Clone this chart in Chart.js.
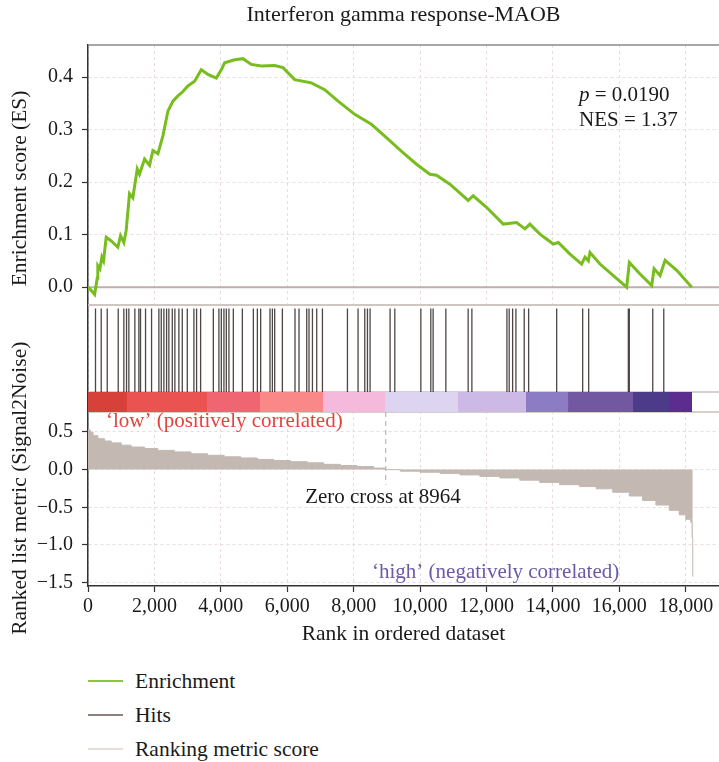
<!DOCTYPE html>
<html>
<head>
<meta charset="utf-8">
<script src="https://cdn.jsdelivr.net/npm/chart.js@4.4.0/dist/chart.umd.min.js"></script>
<style>
  body { margin: 0; background: #fff; font-family: 'Liberation Serif', 'DejaVu Serif', serif; }
  #wrap { position: relative; width: 719px; height: 762px; }
  #gsea { position: absolute; left: 0; top: 0; }
  .leg { position: absolute; left: 88px; width: 400px; height: 24px; color: #1a1a1a; font-size: 21.5px; }
  .leg .sw { position: absolute; left: 0; top: 11px; width: 35px; height: 2px; }
  .leg .tx { position: absolute; left: 47px; top: 0; line-height: 24px; white-space: nowrap; }
</style>
</head>
<body>
<div id="wrap">
  <canvas id="gsea" width="719" height="660"></canvas>
  <div class="leg" style="top:669px"><span class="sw" style="background:#8cc63f"></span><span class="tx">Enrichment</span></div>
  <div class="leg" style="top:703px"><span class="sw" style="background:#8c807c"></span><span class="tx">Hits</span></div>
  <div class="leg" style="top:737px"><span class="sw" style="background:#e6ded9"></span><span class="tx">Ranking metric score</span></div>
</div>
<script>
// running enrichment score
const esRank = [0, 120, 200, 277, 296, 360, 417, 467, 548, 700, 899, 980, 1080, 1150, 1250, 1350, 1483, 1550,
  1703, 1854, 1954, 2105, 2256, 2406, 2557, 2708, 2850, 3009, 3210, 3411, 3612, 3863, 4014, 4114, 4415, 4666,
  4917, 5218, 5620, 5871, 6223, 6725, 7127, 7529, 8031, 8534, 9036, 9450, 9892, 10293, 10494, 10896, 11448,
  11598, 12000, 12503, 12905, 13157, 13307, 13609, 14010, 14161, 14513, 14864, 14965, 15065, 15115, 15417,
  15818, 16220, 16300, 16622, 16974, 17044, 17225, 17376, 17728, 18180];
const esScore = [0.0, -0.008, -0.014, 0.017, 0.041, 0.035, 0.057, 0.05, 0.095, 0.088, 0.076, 0.098, 0.085, 0.108,
  0.178, 0.17, 0.225, 0.215, 0.244, 0.232, 0.26, 0.254, 0.288, 0.335, 0.354, 0.364, 0.372, 0.383, 0.392, 0.414,
  0.405, 0.398, 0.414, 0.427, 0.433, 0.435, 0.424, 0.421, 0.422, 0.418, 0.395, 0.389, 0.376, 0.354, 0.329, 0.31,
  0.282, 0.258, 0.234, 0.215, 0.213, 0.196, 0.165, 0.174, 0.152, 0.12, 0.123, 0.111, 0.12, 0.101, 0.082, 0.085,
  0.063, 0.044, 0.057, 0.05, 0.066, 0.044, 0.022, 0.0, 0.047, 0.025, 0.003, 0.035, 0.022, 0.051, 0.032, 0.0];

// positions of gene set members in the ranked list
const hitRank = [226, 398, 579, 910, 1079, 1160, 1230, 1411, 1531, 1582, 1733, 1914, 2134, 2206, 2285, 2366,
  2435, 2538, 2616, 2737, 2839, 2990, 3189, 3270, 3391, 3774, 3942, 4015, 4093, 4165, 4244, 4376, 4648, 4979,
  5100, 5199, 5480, 5552, 5621, 5853, 6233, 6354, 6586, 6655, 6758, 6887, 7059, 7812, 8132, 8334, 8415, 8494,
  9096, 9238, 10022, 10322, 10392, 10775, 11447, 11559, 12614, 12683, 12786, 12885, 13135, 13268, 14112, 14895,
  15076, 16270, 16300, 17005, 17337];

// ranked list metric (Signal2Noise)
const metricRank = [0, 60, 150, 300, 500, 700, 1000, 1300, 1700, 2100, 2600, 3100, 3600, 4100, 4600, 5100, 5600,
  6100, 6600, 7100, 7600, 8100, 8600, 8964, 9400, 10000, 10600, 11200, 11800, 12400, 13000, 13600, 14200, 14800,
  15300, 15800, 16300, 16700, 17100, 17500, 17800, 18000, 18150, 18190, 18210];
const metricValue = [0.53, 0.5, 0.45, 0.41, 0.38, 0.355, 0.325, 0.3, 0.28, 0.255, 0.235, 0.21, 0.19, 0.17, 0.155,
  0.135, 0.12, 0.105, 0.09, 0.07, 0.055, 0.04, 0.02, 0.0, -0.02, -0.035, -0.05, -0.07, -0.09, -0.11, -0.14, -0.17,
  -0.2, -0.225, -0.255, -0.3, -0.35, -0.41, -0.47, -0.54, -0.6, -0.66, -0.7, -0.9, -1.42];
const zeroCross = 8964;

// heat bar under the hits
const barStart = [0, 1174, 3583, 5179, 7076, 8943, 11141, 13189, 14454, 16411, 17495];
const barEnd = [1174, 3583, 5179, 7076, 8943, 11141, 13189, 14454, 16411, 17495, 18188];
const barColors = ['#d8403a', '#ea5352', '#ef6572', '#fb8888', '#f5b9dc', '#ddd4f2', '#cdb9e6', '#8b7cc3',
  '#7158a1', '#4b3b88', '#5c2c8e'];

const FONT = "'Liberation Serif', 'DejaVu Serif', serif";
Chart.defaults.font.family = FONT;
Chart.defaults.font.size = 20;
Chart.defaults.color = '#1a1a1a';

const minus = s => String(s).replace('-', '\u2212');
const keepMultiples = step => axis => {
  axis.ticks = axis.ticks.filter(t => Math.abs(t.value / step - Math.round(t.value / step)) < 1e-6);
};
const fixWidth = axis => { axis.width = 88; };
const GRID = '#eadcdc';
const TITLE_FONT = { size: 21.5 };

// text notes, in data coordinates
const notes = [
  { parts: [['italic ', 'p'], ['', ' = 0.0190']], x: 14785, y: 0.364, axis: 'yES', color: '#1a1a1a', align: 'left' },
  { parts: [['', 'NES = 1.37']], x: 14785, y: 0.318, axis: 'yES', color: '#1a1a1a', align: 'left' },
  { parts: [['', '\u2018low\u2019 (positively correlated)']], x: 540, y: 0.643, axis: 'yMetric', color: '#e0443e', align: 'left' },
  { parts: [['', 'Zero cross at 8964']], x: 8883, y: -0.365, axis: 'yMetric', color: '#1a1a1a', align: 'center' },
  { parts: [['', '\u2018high\u2019 (negatively correlated)']], x: 8552, y: -1.36, axis: 'yMetric', color: '#6a5aa6', align: 'left' }
];

const panelFrame = {
  id: 'panelFrame',
  beforeDatasetsDraw(chart) {
    const { ctx, chartArea: { left, right }, scales } = chart;
    const h = scales.yHits;
    ctx.save();
    ctx.fillStyle = '#fff';
    ctx.fillRect(left + 1, h.top, right - left, h.bottom - h.top);
    const line = (y, color, w) => {
      ctx.strokeStyle = color; ctx.lineWidth = w;
      ctx.beginPath(); ctx.moveTo(left, y); ctx.lineTo(right, y); ctx.stroke();
    };
    line(scales.yES.top, '#8a8a8a', 1.5);
    line(scales.yES.getPixelForValue(0), '#bfaeaa', 2);
    line(h.top, '#cfc5c2', 2);
    line(scales.yBar.top, '#c9c0bd', 1.5);
    line(scales.yBar.bottom, '#c9c0bd', 1.5);
    ctx.restore();
  },
  afterDatasetsDraw(chart) {
    const { ctx, scales } = chart;
    ctx.save();
    ctx.textBaseline = 'middle';
    notes.forEach(n => {
      let px = scales.x.getPixelForValue(n.x);
      const py = scales[n.axis].getPixelForValue(n.y);
      const widths = n.parts.map(([st, t]) => { ctx.font = st + '21px ' + FONT; return ctx.measureText(t).width; });
      if (n.align === 'center') px -= widths.reduce((a, b) => a + b, 0) / 2;
      ctx.fillStyle = n.color;
      ctx.textAlign = 'left';
      n.parts.forEach(([st, t], i) => {
        ctx.font = st + '21px ' + FONT;
        ctx.fillText(t, px, py);
        px += widths[i];
      });
    });
    ctx.restore();
  }
};

const datasets = [
  {
    label: 'Enrichment',
    data: esRank.map((r, i) => ({ x: r, y: esScore[i] })),
    yAxisID: 'yES', borderColor: '#78bd1e', borderWidth: 3, pointRadius: 0, tension: 0
  },
  {
    label: 'Hits',
    data: hitRank.flatMap(r => [{ x: r, y: 0 }, { x: r, y: 0.96 }, { x: r, y: null }]),
    yAxisID: 'yHits', borderColor: 'rgba(40,30,28,0.82)', borderWidth: 1.3, pointRadius: 0, spanGaps: false
  },
  ...barStart.map((s, i) => ({
    label: 'bar' + i,
    data: [{ x: s, y: 1 }, { x: barEnd[i], y: 1 }],
    yAxisID: 'yBar', borderWidth: 0, pointRadius: 0, fill: 'start', backgroundColor: barColors[i]
  })),
  {
    label: 'Ranking metric score',
    data: metricRank.map((r, i) => ({ x: r, y: metricValue[i] })),
    yAxisID: 'yMetric', stepped: true, fill: 'origin', backgroundColor: '#c3b8b2',
    borderColor: '#c3b8b2', borderWidth: 1, pointRadius: 0
  },
  {
    label: 'zero cross',
    data: [{ x: zeroCross, y: 0.765 }, { x: zeroCross, y: -0.2 }],
    yAxisID: 'yMetric', borderColor: '#b8b8b8', borderWidth: 1.2, borderDash: [5, 4], pointRadius: 0
  }
];

const sideAxis = (weight, stackWeight) => ({
  type: 'linear', position: 'left', stack: 'gsea', weight, stackWeight, min: 0, max: 1,
  ticks: { display: false }, grid: { display: false },
  border: { color: '#333', width: 1.5 }, afterFit: fixWidth
});

new Chart(document.getElementById('gsea'), {
  type: 'line',
  data: { datasets },
  plugins: [panelFrame],
  options: {
    responsive: false,
    animation: false,
    layout: { padding: 0 },
    plugins: {
      legend: { display: false },
      tooltip: { enabled: false },
      title: {
        display: true, text: 'Interferon gamma response-MAOB', fullSize: false,
        padding: { top: 2, bottom: 16.6 }, font: { size: 22, weight: 'normal' }, color: '#1a1a1a'
      }
    },
    scales: {
      x: {
        type: 'linear', position: 'bottom', min: 0, max: 19000,
        ticks: { includeBounds: false, maxTicksLimit: 11, padding: 3, maxRotation: 0, autoSkip: false,
          callback: v => v.toLocaleString('en-US') },
        afterBuildTicks: keepMultiples(2000),
        afterFit: a => { a.height = 74; },
        grid: { color: GRID, tickColor: '#333', tickLength: 6, tickWidth: 1.2 },
        border: { color: '#333', width: 1.5, dash: [3, 3] },
        title: { display: true, text: 'Rank in ordered dataset', font: TITLE_FONT, padding: { top: 0, bottom: 13 } }
      },
      yES: {
        type: 'linear', position: 'left', stack: 'gsea', weight: 4, stackWeight: 260,
        min: -0.034, max: 0.461,
        ticks: { stepSize: 0.1, includeBounds: false, autoSkip: false, padding: 9, callback: v => v.toFixed(1) },
        afterBuildTicks: keepMultiples(0.1),
        afterFit: fixWidth,
        grid: { color: GRID, tickColor: '#333', tickLength: 6, tickWidth: 1.2 },
        border: { color: '#333', width: 1.5, dash: [3, 3] },
        title: { display: true, text: 'Enrichment score (ES)     ', font: TITLE_FONT, padding: { top: 7, bottom: 0 } }
      },
      yHits: sideAxis(3, 87),
      yBar: sideAxis(2, 20),
      yMetric: {
        type: 'linear', position: 'left', stack: 'gsea', weight: 1, stackWeight: 174,
        min: -1.545, max: 0.765,
        ticks: { stepSize: 0.5, includeBounds: false, autoSkip: false, padding: 9, callback: v => minus(v.toFixed(1)) },
        afterBuildTicks: keepMultiples(0.5),
        afterFit: fixWidth,
        grid: { color: GRID, tickColor: '#333', tickLength: 6, tickWidth: 1.2 },
        border: { color: '#333', width: 1.5, dash: [3, 3] },
        title: { display: true, text: '    Ranked list metric (Signal2Noise)', font: TITLE_FONT, padding: { top: 7, bottom: 0 } }
      }
    }
  }
});
</script>
</body>
</html>
